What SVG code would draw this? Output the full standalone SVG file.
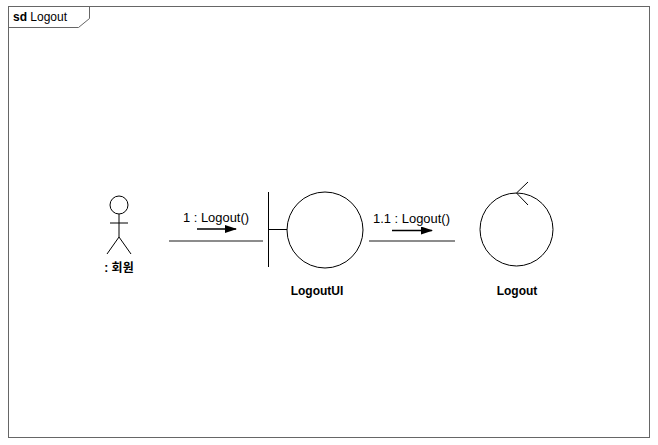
<svg xmlns="http://www.w3.org/2000/svg" width="658" height="445" viewBox="0 0 658 445">
<style>
text{font-family:"Liberation Sans",Arial,"Noto Sans CJK KR",sans-serif;font-size:12px;fill:#000}
.b{font-weight:bold}
.s{fill:none;stroke:#000;stroke-width:1}
.c{fill:none;stroke:#666;stroke-width:1.3}
</style>
<defs>
<marker id="ah" markerWidth="12" markerHeight="8" refX="11" refY="4" orient="auto" markerUnits="userSpaceOnUse">
<path d="M0,0 L12,4 L0,8 Z" fill="#000"/>
</marker>
</defs>
<rect x="0" y="0" width="658" height="445" fill="#fff"/>
<g id="frame">
<rect x="8.5" y="6.5" width="641" height="431" fill="none" stroke="#666"/>
<path d="M8.5,27.5 H78.5 L89.5,18.5 V6.5" fill="none" stroke="#666"/>
<text x="13" y="21"><tspan class="b">sd</tspan> Logout</text>
</g>
<g id="actor">
<circle cx="119" cy="205" r="9" class="s"/>
<path d="M119,214 V237 M110,223 H128 M119,237 L107,254 M119,237 L131,254" class="s"/>
<text x="119" y="272" class="b" text-anchor="middle">: 회원</text>
</g>
<g id="LogoutUI">
<path d="M268.5,192 V267 M268.5,229.5 H287" class="s"/>
<circle cx="325" cy="230" r="38" class="s"/>
<text x="317" y="295" class="b" text-anchor="middle">LogoutUI</text>
</g>
<g id="Logout">
<circle cx="516.5" cy="229.5" r="36.5" class="s"/>
<path d="M528,182 L516.5,193 L528,205" class="s"/>
<text x="517" y="295" class="b" text-anchor="middle">Logout</text>
</g>
<g id="connectors">
<line x1="169" y1="241" x2="263" y2="241" class="c"/>
<line x1="197" y1="229" x2="236" y2="229" stroke="#000" stroke-width="1.3" marker-end="url(#ah)"/>
<text x="183" y="222" textLength="66" lengthAdjust="spacingAndGlyphs">1 : Logout()</text>
<line x1="369" y1="241" x2="455" y2="241" class="c"/>
<line x1="392" y1="230.5" x2="432" y2="230.5" stroke="#000" stroke-width="1.3" marker-end="url(#ah)"/>
<text x="373" y="223" textLength="77" lengthAdjust="spacingAndGlyphs">1.1 : Logout()</text>
</g>
</svg>
